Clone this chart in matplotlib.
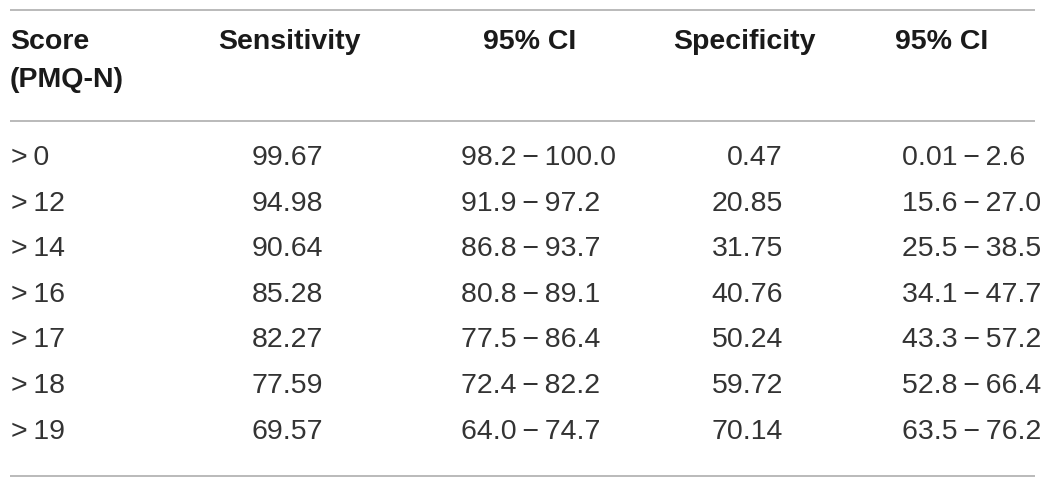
import matplotlib.pyplot as plt

plt.rcParams['font.family'] = ['Liberation Sans', 'DejaVu Sans']

header = ['Score\n(PMQ-N)', 'Sensitivity', '95% CI', 'Specificity', '95% CI']
scores = ['>\u20090', '>\u200912', '>\u200914', '>\u200916', '>\u200917', '>\u200918', '>\u200919']
sensitivity = ['99.67', '94.98', '90.64', '85.28', '82.27', '77.59', '69.57']
sens_ci = ['98.2\u2009\u2212\u2009100.0', '91.9\u2009\u2212\u200997.2', '86.8\u2009\u2212\u200993.7',
           '80.8\u2009\u2212\u200989.1', '77.5\u2009\u2212\u200986.4', '72.4\u2009\u2212\u200982.2',
           '64.0\u2009\u2212\u200974.7']
specificity = ['0.47', '20.85', '31.75', '40.76', '50.24', '59.72', '70.14']
spec_ci = ['0.01\u2009\u2212\u20092.6', '15.6\u2009\u2212\u200927.0', '25.5\u2009\u2212\u200938.5',
           '34.1\u2009\u2212\u200947.7', '43.3\u2009\u2212\u200957.2', '52.8\u2009\u2212\u200966.4',
           '63.5\u2009\u2212\u200976.2']

W, H = 1050, 488
fig = plt.figure(figsize=(W / 100, H / 100), dpi=100)
ax = fig.add_axes([0, 0, 1, 1])
ax.set_xlim(0, W)
ax.set_ylim(H, 0)
ax.axis('off')

fs = 20.5
hc = '#1a1a1a'
dc = '#333333'
lc = '#b4b4b4'

# rules
for y in (10, 121, 476):
    ax.plot([10, 1035], [y, y], color=lc, lw=1.3, solid_capstyle='butt')

# header row
hpos = [10, 218, 483, 673, 895]
ax.text(10, 42, 'Score', fontsize=fs, fontweight='bold', color=hc, ha='left', va='center')
ax.text(10, 80, '(PMQ-N)', fontsize=fs, fontweight='bold', color=hc, ha='left', va='center')
for x, lab in list(zip(hpos, header))[1:]:
    ax.text(x, 42, lab, fontsize=fs, fontweight='bold', color=hc, ha='left', va='center')

# body
cols = [scores, sensitivity, sens_ci, specificity, spec_ci]
dpos = [(11, 'left'), (323, 'right'), (461, 'left'), (783, 'right'), (902, 'left')]
y0, dy = 158, 45.6
for (x, ha), col in zip(dpos, cols):
    for i, val in enumerate(col):
        ax.text(x, y0 + i * dy, val, fontsize=fs, color=dc, ha=ha, va='center')

fig.savefig('out.png', dpi=100)
